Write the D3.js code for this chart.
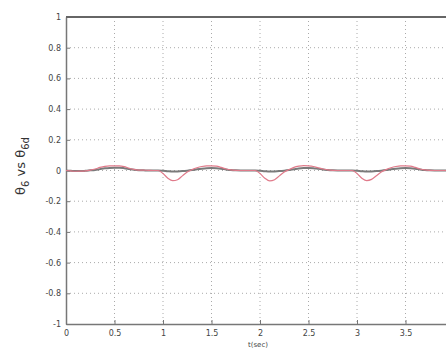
<!DOCTYPE html>
<html><head><meta charset="utf-8">
<script src="https://cdn.jsdelivr.net/npm/d3@7/dist/d3.min.js"></script>
<style>body{margin:0;background:#fff}svg{display:block}</style>
</head><body><svg id="c" width="446" height="354"></svg>
<script>
const time = [0,0.05,0.1,0.15,0.2,0.25,0.3,0.35,0.4,0.45,0.5,0.55,0.6,0.65,0.7,0.75,0.8,0.85,0.9,0.95,
1,1.05,1.1,1.15,1.2,1.25,1.3,1.35,1.4,1.45,1.5,1.55,1.6,1.65,1.7,1.75,1.8,1.85,1.9,1.95,
2,2.05,2.1,2.15,2.2,2.25,2.3,2.35,2.4,2.45,2.5,2.55,2.6,2.65,2.7,2.75,2.8,2.85,2.9,2.95,
3,3.05,3.1,3.15,3.2,3.25,3.3,3.35,3.4,3.45,3.5,3.55,3.6,3.65,3.7,3.75,3.8,3.85,3.9,3.95,4];
const theta6d = [0,-0.003,-0.005,-0.004,-0.002,0.003,0.01,0.02,0.027,0.03,0.03,0.03,0.025,0.015,0.007,0.003,0.002,0.001,0,0,
-0.02,-0.05,-0.066,-0.06,-0.035,-0.01,0.006,0.018,0.026,0.03,0.03,0.028,0.02,0.01,0.004,0.001,0,0,0,0,
-0.02,-0.05,-0.068,-0.06,-0.035,-0.01,0.006,0.02,0.028,0.032,0.03,0.026,0.018,0.01,0.004,0.001,0,0,0,0,
-0.02,-0.05,-0.066,-0.058,-0.034,-0.01,0.006,0.018,0.026,0.03,0.03,0.028,0.02,0.01,0.004,0.001,0,0,0,0,-0.01];
const theta6 = [0,-0.002,-0.004,-0.004,-0.002,0.001,0.004,0.009,0.014,0.017,0.018,0.018,0.015,0.01,0.005,0.002,0.001,0,0,0,
-0.002,-0.005,-0.007,-0.006,-0.004,-0.001,0.003,0.008,0.012,0.015,0.016,0.015,0.012,0.007,0.003,0.001,0,0,0,0,
-0.002,-0.005,-0.007,-0.006,-0.004,-0.001,0.003,0.008,0.013,0.016,0.017,0.015,0.011,0.007,0.003,0.001,0,0,0,0,
-0.002,-0.005,-0.007,-0.006,-0.004,-0.001,0.003,0.008,0.012,0.015,0.016,0.015,0.012,0.007,0.003,0.001,0,0,0,0,-0.001];
const xTicks = [0,0.5,1,1.5,2,2.5,3,3.5];
const xTickLabels = ["0","0.5","1","1.5","2","2.5","3","3.5"];
const yTicks = [1,0.8,0.6,0.4,0.2,0,-0.2,-0.4,-0.6,-0.8,-1];
const yTickLabels = ["1","0.8","0.6","0.4","0.2","0","-0.2","-0.4","-0.6","-0.8","-1"];

const svg = d3.select("#c");
const L = 66, R = 454, T = 17, B = 324;
const x = d3.scaleLinear().domain([0,4]).range([L,R]);
const y = d3.scaleLinear().domain([-1,1]).range([B,T]);

// grid
const g = svg.append("g");
g.selectAll(".vg").data(xTicks.slice(1)).join("line")
 .attr("x1",d=>x(d)).attr("x2",d=>x(d)).attr("y1",T).attr("y2",B)
 .attr("stroke","#aaa").attr("stroke-width",1).attr("stroke-dasharray","1,3");
g.selectAll(".hg").data(yTicks.filter(v=>v!==1&&v!==-1)).join("line")
 .attr("x1",L).attr("x2",R).attr("y1",d=>y(d)).attr("y2",d=>y(d))
 .attr("stroke","#aaa").attr("stroke-width",1).attr("stroke-dasharray","1,3");

// axes
const xa = svg.append("g").attr("transform",`translate(0,${B})`)
 .call(d3.axisBottom(x).tickValues(xTicks).tickFormat((d,i)=>xTickLabels[i]).tickSizeInner(-4).tickSizeOuter(0).tickPadding(6));
const ya = svg.append("g").attr("transform",`translate(${L},0)`)
 .call(d3.axisLeft(y).tickValues(yTicks).tickFormat((d,i)=>yTickLabels[i]).tickSizeInner(-4).tickSizeOuter(0).tickPadding(5));
[xa,ya].forEach(a=>{
  a.select(".domain").attr("stroke","#777").attr("stroke-width",1.5);
  a.selectAll(".tick line").attr("stroke","#777");
  a.selectAll("text").attr("fill","#444").style("font-family","DejaVu Sans, sans-serif").style("font-size","8px");
});
// top frame
svg.append("line").attr("x1",L).attr("x2",R).attr("y1",T).attr("y2",T).attr("stroke","#666").attr("stroke-width",2);

// lines
const line = (arr)=>d3.line().x((d,i)=>x(time[i])).y(d=>y(d)).curve(d3.curveMonotoneX)(arr);
svg.append("path").attr("d",line(theta6)).attr("fill","none").attr("stroke","#7a7a7a").attr("stroke-width",2);
svg.append("path").attr("d",line(theta6d)).attr("fill","none").attr("stroke","#e07a8a").attr("stroke-width",1.2);

// labels
const yl = svg.append("text").attr("transform","translate(25,166) rotate(-90)")
 .attr("text-anchor","middle").attr("fill","#333")
 .style("font-family","DejaVu Sans, sans-serif").style("font-size","13px");
yl.append("tspan").text("θ");
yl.append("tspan").attr("dy",4).style("font-size","10px").text("6");
yl.append("tspan").attr("dy",-4).text(" vs θ");
yl.append("tspan").attr("dy",4).style("font-size","10px").text("6d");
svg.append("text").attr("x",258).attr("y",347).attr("text-anchor","middle").attr("fill","#444")
 .style("font-family","DejaVu Sans, sans-serif").style("font-size","7px").text("t(sec)");
</script></body></html>
